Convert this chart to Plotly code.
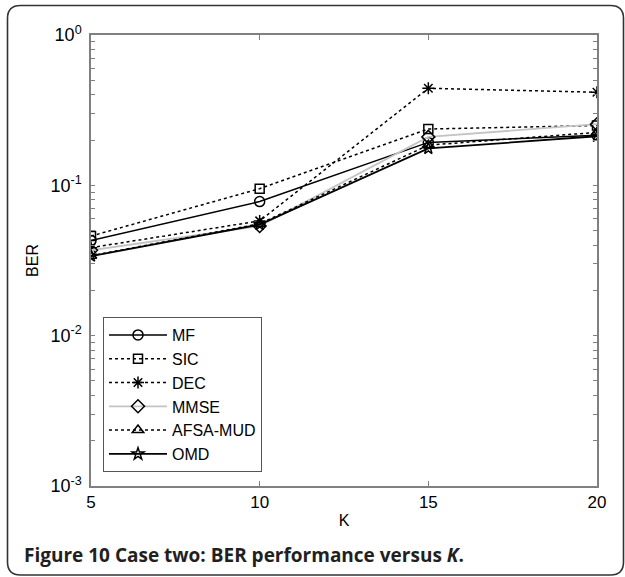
import plotly.graph_objects as go

K = [5, 10, 15, 20]
ber_mf = [0.043, 0.078, 0.193, 0.215]
ber_sic = [0.046, 0.095, 0.237, 0.250]
ber_dec = [0.0385, 0.058, 0.442, 0.416]
ber_mmse = [0.037, 0.0536, 0.210, 0.255]
ber_afsa = [0.034, 0.0555, 0.185, 0.225]
ber_omd = [0.0338, 0.0548, 0.176, 0.212]

series_names = ["MF", "SIC", "DEC", "MMSE", "AFSA-MUD", "OMD"]
series_vals = [ber_mf, ber_sic, ber_dec, ber_mmse, ber_afsa, ber_omd]
x_ticks = [5, 10, 15, 20]
y_major = [1e-3, 1e-2, 1e-1, 1e0]
y_major_text = ["10<sup>-3</sup>", "10<sup>-2</sup>", "10<sup>-1</sup>", "10<sup>0</sup>"]
caption = "<b>Figure 10</b> <b>Case two: BER performance versus <i>K</i>.</b>"

styles = {
    "MF": dict(line=dict(color="black", width=1.5, dash="solid"), symbol="circle-open", msize=10),
    "SIC": dict(line=dict(color="black", width=1.5, dash="dot"), symbol="square-open", msize=9),
    "DEC": dict(line=dict(color="black", width=1.5, dash="dot"), symbol="asterisk-open", msize=10),
    "MMSE": dict(line=dict(color="#c4c4c4", width=1.8, dash="solid"), symbol="diamond-open", msize=10),
    "AFSA-MUD": dict(line=dict(color="black", width=1.5, dash="dot"), symbol="triangle-up-open", msize=10),
    "OMD": dict(line=dict(color="black", width=1.8, dash="solid"), symbol="star-open", msize=9),
}

fig = go.Figure()
for name, vals in zip(series_names, series_vals):
    st = styles[name]
    fig.add_trace(go.Scatter(
        x=K, y=vals, name=name, mode="lines+markers",
        line=st["line"],
        marker=dict(symbol=st["symbol"], size=st["msize"], color="black",
                    line=dict(color="black", width=1.5)),
    ))

# minor tick positions for the log axis
y_tickvals = []
y_ticktext = []
for i, dec in enumerate(y_major):
    y_tickvals.append(dec)
    y_ticktext.append(y_major_text[i])
    if dec < 1:
        for m in range(2, 10):
            y_tickvals.append(dec * m)
            y_ticktext.append("")

W, H = 625, 577
ml, mr, mt, mb = 91, 28, 35, 91
pw, ph = W - ml - mr, H - mt - mb

def px(x):
    return (x - ml) / pw

def py(y):
    return (H - mb - y) / ph

# rounded frame path (pixel -> paper coords)
x0, x1, y0, y1, r = 7.5, 623.5, 5.5, 575, 13
path = (
    f"M {px(x0 + r)},{py(y0)} L {px(x1 - r)},{py(y0)} "
    f"Q {px(x1)},{py(y0)} {px(x1)},{py(y0 + r)} "
    f"L {px(x1)},{py(y1 - r)} Q {px(x1)},{py(y1)} {px(x1 - r)},{py(y1)} "
    f"L {px(x0 + r)},{py(y1)} Q {px(x0)},{py(y1)} {px(x0)},{py(y1 - r)} "
    f"L {px(x0)},{py(y0 + r)} Q {px(x0)},{py(y0)} {px(x0 + r)},{py(y0)} Z"
)

fig.update_layout(
    width=W, height=H,
    margin=dict(l=ml, r=mr, t=mt, b=mb),
    paper_bgcolor="white", plot_bgcolor="white",
    font=dict(family="Liberation Sans, Arial", size=17, color="black"),
    showlegend=True,
    legend=dict(
        x=px(103), y=py(317), xanchor="left", yanchor="top",
        bordercolor="#555555", borderwidth=1, bgcolor="white",
        font=dict(family="Liberation Sans, Arial", size=16, color="black"),
        tracegroupgap=0, itemwidth=58,
    ),
    xaxis=dict(
        range=[5, 20], tickvals=x_ticks, ticktext=[str(v) for v in x_ticks],
        ticks="inside", ticklen=5, tickcolor="#808080",
        tickfont=dict(size=17),
        showline=True, linecolor="#808080", linewidth=1.5, mirror="ticks",
        showgrid=False, zeroline=False,
        title=dict(text="K", font=dict(size=16), standoff=4),
    ),
    yaxis=dict(
        type="log", range=[-3, 0], tickvals=y_tickvals, ticktext=y_ticktext,
        ticks="inside", ticklen=4, tickcolor="#808080",
        tickfont=dict(size=18), ticklabelstandoff=4,
        showline=True, linecolor="#808080", linewidth=1.5, mirror="ticks",
        showgrid=False, zeroline=False,
        title=dict(text="BER", font=dict(size=16), standoff=8),
    ),
    shapes=[dict(type="path", path=path, xref="paper", yref="paper",
                 line=dict(color="#333333", width=1.6), layer="below")],
    annotations=[dict(
        text=caption, xref="paper", yref="paper",
        x=px(22), y=py(555), xanchor="left", yanchor="middle",
        showarrow=False,
        font=dict(family="Open Sans", size=19, color="#231f20"),
    )],
)

fig.write_html("out.html")
